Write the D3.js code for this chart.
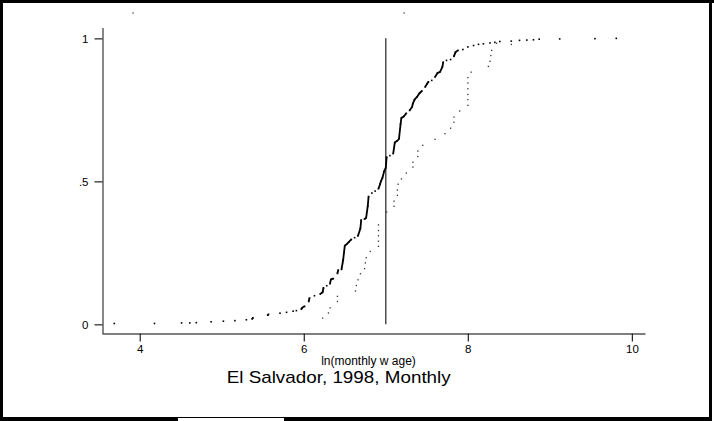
<!DOCTYPE html>
<html><head><meta charset="utf-8">
<script src="https://cdn.jsdelivr.net/npm/d3@7"></script>
<style>body{margin:0;background:#fff}svg{display:block}text{font-family:"Liberation Sans",Arial,sans-serif;fill:#000}</style>
</head><body><svg id="c" width="714" height="421"></svg>
<script>
// ---- data ----
const xTicks = [4, 6, 8, 10];
const yTicks = [0, 0.5, 1];
const yTickLabels = ["0", ".5", "1"];
const cutoff = 7;
const xTitle = "ln(monthly w age)";
const caption = "El Salvador, 1998, Monthly";
// solid (dense) empirical CDF: [ln wage, cumulative share]
const seriesSolid = [
 [3.69,0.003],[4.18,0.003],[4.51,0.005],[4.61,0.005],[4.69,0.006],[4.87,0.009],[5.02,0.011],
 [5.16,0.013],[5.30,0.016],[5.37,0.019],[5.38,0.023],[5.56,0.032],[5.57,0.035],[5.71,0.039],
 [5.79,0.042],[5.87,0.046],[5.91,0.048],[5.97,0.053],[5.98,0.058],[6.01,0.063],[6.06,0.080],
 [6.07,0.092],[6.13,0.100],[6.20,0.106],[6.23,0.112],[6.24,0.128],[6.28,0.135],[6.32,0.142],
 [6.33,0.157],[6.36,0.160],[6.41,0.178],[6.42,0.190],[6.46,0.192],[6.48,0.225],[6.50,0.275],
 [6.53,0.282],[6.55,0.288],[6.58,0.297],[6.62,0.303],[6.66,0.309],[6.69,0.335],[6.70,0.365],
 [6.74,0.368],[6.76,0.372],[6.78,0.413],[6.79,0.447],[6.83,0.459],[6.87,0.466],[6.91,0.474],
 [6.93,0.490],[6.94,0.500],[6.96,0.513],[6.98,0.535],[7.00,0.548],[7.01,0.585],[7.05,0.590],
 [7.09,0.597],[7.11,0.636],[7.14,0.642],[7.16,0.648],[7.18,0.700],[7.19,0.722],[7.22,0.727],
 [7.25,0.738],[7.29,0.748],[7.32,0.760],[7.33,0.772],[7.35,0.786],[7.38,0.795],[7.41,0.808],
 [7.44,0.816],[7.48,0.830],[7.50,0.840],[7.52,0.848],[7.56,0.853],[7.60,0.865],[7.63,0.879],
 [7.66,0.882],[7.69,0.900],[7.70,0.917],[7.74,0.923],[7.79,0.926],[7.83,0.937],[7.85,0.952],
 [7.88,0.958],[7.94,0.961],[8.00,0.970],[8.07,0.975],[8.13,0.979],[8.19,0.981],[8.27,0.984],
 [8.33,0.986],[8.39,0.989],[8.53,0.990],[8.63,0.993],[8.72,0.994],[8.80,0.995],[8.87,0.997],
 [9.12,0.998],[9.55,0.999],[9.81,1.0]
];
// dotted (sparse) empirical CDF
const seriesDotted = [
 [6.23,0.022],[6.30,0.040],[6.32,0.058],[6.41,0.080],[6.41,0.098],[6.63,0.117],[6.64,0.136],
 [6.66,0.156],[6.69,0.177],[6.74,0.195],[6.75,0.215],[6.76,0.233],[6.81,0.255],[6.91,0.273],
 [6.91,0.291],[6.91,0.310],[6.91,0.328],[6.91,0.348],[7.01,0.393],[7.10,0.413],[7.10,0.431],
 [7.14,0.451],[7.14,0.470],[7.15,0.490],[7.19,0.509],[7.25,0.529],[7.33,0.550],[7.33,0.567],
 [7.39,0.587],[7.39,0.606],[7.45,0.626],[7.60,0.647],[7.72,0.667],[7.79,0.686],[7.83,0.707],
 [7.83,0.725],[7.90,0.746],[8.00,0.766],[8.00,0.786],[8.00,0.804],[8.00,0.824],[8.00,0.844],
 [8.00,0.863],[8.04,0.882],[8.25,0.902],[8.27,0.920],[8.28,0.940],[8.29,0.958],[8.35,0.983],
 [8.53,0.979],[8.53,0.990]
];
const strayMarks = [[3.918,1.089],[7.223,1.089]];
const xExtent = [3.54, 10.16];
const yExtent = [-0.032, 1.038];

// ---- chart ----
const svg = d3.select("#c");
svg.append("rect").attr("width",714).attr("height",421).attr("fill","#fff");

const x = d3.scaleLinear().domain(xExtent).range([102, 645]);
const y = d3.scaleLinear().domain(yExtent).range([333.5, 27.5]);

// frame
const frame = svg.append("g").attr("fill","#000");
frame.append("rect").attr("x",0).attr("y",0).attr("width",714).attr("height",3);
frame.append("rect").attr("x",0).attr("y",0).attr("width",3).attr("height",421);
frame.append("rect").attr("x",709).attr("y",0).attr("width",3).attr("height",420);
frame.append("rect").attr("x",0).attr("y",417).attr("width",178).attr("height",4);
frame.append("rect").attr("x",284).attr("y",417).attr("width",428).attr("height",4);
frame.append("rect").attr("x",178).attr("y",417).attr("width",106).attr("height",1);

// axes
const gx = svg.append("g").attr("transform","translate(0,333.5)")
  .call(d3.axisBottom(x).tickValues(xTicks).tickFormat(d3.format("d")).tickSize(8).tickSizeOuter(0).tickPadding(3));
const gy = svg.append("g").attr("transform","translate(102.5,0)")
  .call(d3.axisLeft(y).tickValues(yTicks).tickFormat((d,i)=>yTickLabels[i]).tickSize(8).tickSizeOuter(0).tickPadding(6));
[gx,gy].forEach(g=>{
  g.select(".domain").attr("stroke","#555").attr("stroke-width",1.4);
  g.selectAll(".tick line").attr("stroke","#222").attr("stroke-width",1.2);
  g.selectAll(".tick text").attr("font-size",11.5).attr("font-family","Liberation Sans, Arial, sans-serif").attr("fill","#000");
});

// cutoff line
svg.append("line").attr("x1",x(cutoff)).attr("x2",x(cutoff)).attr("y1",y(0)).attr("y2",y(1))
  .attr("stroke","#333").attr("stroke-width",1.3);

// solid series: markers, with near-vertical runs joined
const solid = svg.append("g");
for (let i=1;i<seriesSolid.length;i++){
  const a=seriesSolid[i-1], b=seriesSolid[i];
  if (Math.abs(x(b[0])-x(a[0]))<=2.6){
    solid.append("line").attr("x1",x(a[0])).attr("y1",y(a[1])).attr("x2",x(b[0])).attr("y2",y(b[1]))
      .attr("stroke","#000").attr("stroke-width",1.8);
  }
}
solid.selectAll("rect").data(seriesSolid).join("rect")
  .attr("x",d=>x(d[0])-0.8).attr("y",d=>y(d[1])-0.8).attr("width",1.6).attr("height",1.6).attr("fill","#000");

// dotted series
svg.append("g").selectAll("rect").data(seriesDotted).join("rect")
  .attr("x",d=>x(d[0])-0.6).attr("y",d=>y(d[1])-0.6).attr("width",1.3).attr("height",1.3).attr("fill","#333");

// stray marks
svg.append("g").selectAll("rect").data(strayMarks).join("rect")
  .attr("x",d=>x(d[0])-0.6).attr("y",d=>y(d[1])-0.6).attr("width",1.3).attr("height",1.3).attr("fill","#444");

// titles
svg.append("text").attr("x",368.5).attr("y",365).attr("text-anchor","middle").attr("font-size",12).text(xTitle);
svg.append("text").attr("x",338.7).attr("y",382.7).attr("text-anchor","middle").attr("font-size",17)
  .attr("textLength",224).attr("lengthAdjust","spacingAndGlyphs").text(caption);
</script></body></html>
